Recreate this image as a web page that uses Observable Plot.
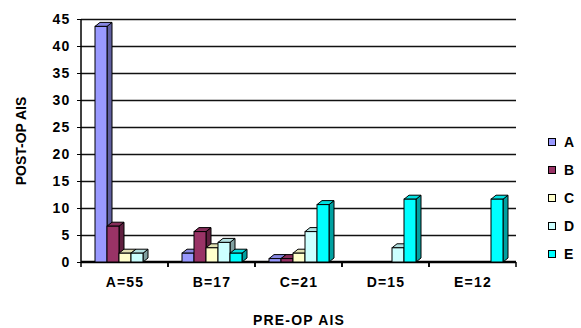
<!DOCTYPE html>
<html><head><meta charset="utf-8">
<script src="https://cdn.jsdelivr.net/npm/d3@7"></script>
<script src="https://cdn.jsdelivr.net/npm/@observablehq/plot@0.6"></script>
<style>
body{margin:0;background:#fff}
#wrap{position:relative;width:581px;height:328px;font-family:"Liberation Sans",Arial,sans-serif;font-weight:bold;color:#000}
#legend{position:absolute;left:548px;top:0}
.item{position:absolute;left:0;display:flex;align-items:center;font-size:14px;line-height:14px;letter-spacing:1.2px;white-space:nowrap}
.sw{width:6px;height:6px;border:1.5px solid #000;margin-right:8px}
#chart svg text{letter-spacing:1.2px}
#chart svg g[aria-label="y-axis label"] text{letter-spacing:0}
</style></head><body><div id="wrap"><div id="chart"></div><div id="legend"></div></div>
<script>
const groups = ["A=55", "B=17", "C=21", "D=15", "E=12"];
const series = ["A", "B", "C", "D", "E"];
const colors = ["#9999FF", "#993366", "#FFFFCC", "#CCFFFF", "#00FFFF"];
const seriesA = [44, 2, 1, 0, 0];
const seriesB = [7, 6, 1, 0, 0];
const seriesC = [2, 3, 2, 0, 0];
const seriesD = [2, 4, 6, 3, 0];
const seriesE = [0, 2, 11, 12, 12];
const yTicks = [0, 5, 10, 15, 20, 25, 30, 35, 40, 45];

const rows = [];
[seriesA, seriesB, seriesC, seriesD, seriesE].forEach((vals, i) =>
  vals.forEach((v, j) => rows.push({group: groups[j], series: series[i], value: v})));
const bars = rows.filter(d => d.value > 0);

function bars3d(index, scales, values) {
  const g = d3.create("svg:g");
  const bw = scales.x.bandwidth();
  const ddx = 5, ddy = 4, drop = 2;
  for (const i of index) {
    const x0 = values.x[i], x1 = x0 + bw;
    const yb = Math.max(values.y1[i], values.y2[i]);
    const yt = Math.min(values.y1[i], values.y2[i]) + drop;
    const c = colors[series.indexOf(bars[i].series)];
    const side = d3.color(c).darker(1.3).formatHex();
    const top = d3.color(c).darker(0.35).formatHex();
    g.append("polygon")
      .attr("points", [[x1, yb], [x1 + ddx, yb - ddy], [x1 + ddx, yt - ddy], [x1, yt]].join(" "))
      .attr("fill", side).attr("stroke", "#000").attr("stroke-width", 1).attr("stroke-linejoin", "round");
    g.append("polygon")
      .attr("points", [[x0, yt], [x0 + ddx, yt - ddy], [x1 + ddx, yt - ddy], [x1, yt]].join(" "))
      .attr("fill", top).attr("stroke", "#000").attr("stroke-width", 1).attr("stroke-linejoin", "round");
    g.append("rect")
      .attr("x", x0).attr("y", yt).attr("width", bw).attr("height", Math.max(0, yb - yt))
      .attr("fill", c).attr("stroke", "#000").attr("stroke-width", 1);
  }
  return g.node();
}

function frame(index, scales) {
  const g = d3.create("svg:g");
  const [r0, r1] = scales.x.range();
  const y0 = scales.y(0), yTop = scales.y(45);
  const first = groups[index[0]] === groups[0];
  g.append("line").attr("x1", r0).attr("x2", r1).attr("y1", y0).attr("y2", y0)
    .attr("stroke", "#000").attr("stroke-width", 2.5);
  for (const xx of [r0, r1]) {
    g.append("line").attr("x1", xx).attr("x2", xx).attr("y1", y0).attr("y2", y0 + 5)
      .attr("stroke", "#000").attr("stroke-width", 1.5);
  }
  if (first) {
    g.append("line").attr("x1", r0).attr("x2", r0).attr("y1", yTop).attr("y2", y0)
      .attr("stroke", "#000").attr("stroke-width", 1.5);
  }
  return g.node();
}

const chart = Plot.plot({
  width: 581,
  height: 328,
  marginLeft: 80,
  marginRight: 64,
  marginTop: 19,
  marginBottom: 66,
  style: {fontFamily: '"Liberation Sans", Arial, sans-serif', fontSize: "14px", fontWeight: "bold", color: "#000", background: "#fff"},
  fx: {domain: groups, padding: 0, axis: "bottom", label: "PRE-OP AIS", labelAnchor: "center", labelArrow: "none", tickSize: 0, tickPadding: 15, labelOffset: 62},
  x: {domain: series, paddingInner: 0, paddingOuter: 0.85, axis: null},
  y: {domain: [0, 45], ticks: yTicks, tickSize: 4, tickPadding: 7, label: "POST-OP AIS", labelAnchor: "center", labelArrow: "none", labelOffset: 65},
  marks: [
    Plot.ruleY(yTicks.slice(1), {stroke: "#111", strokeWidth: 1.6}),
    Plot.ruleY(groups, {fx: d => d, y: d => 0, render: frame}),
    Plot.barY(bars, {fx: "group", x: "series", y: "value", fill: "series", render: bars3d})
  ]
});
document.getElementById("chart").appendChild(chart);

const legend = document.getElementById("legend");
series.forEach((s, i) => {
  const item = document.createElement("div");
  item.className = "item";
  item.style.top = (135 + i * 28) + "px";
  const sw = document.createElement("div");
  sw.className = "sw";
  sw.style.background = colors[i];
  item.appendChild(sw);
  item.appendChild(document.createTextNode(s));
  legend.appendChild(item);
});
</script>
</body></html>
